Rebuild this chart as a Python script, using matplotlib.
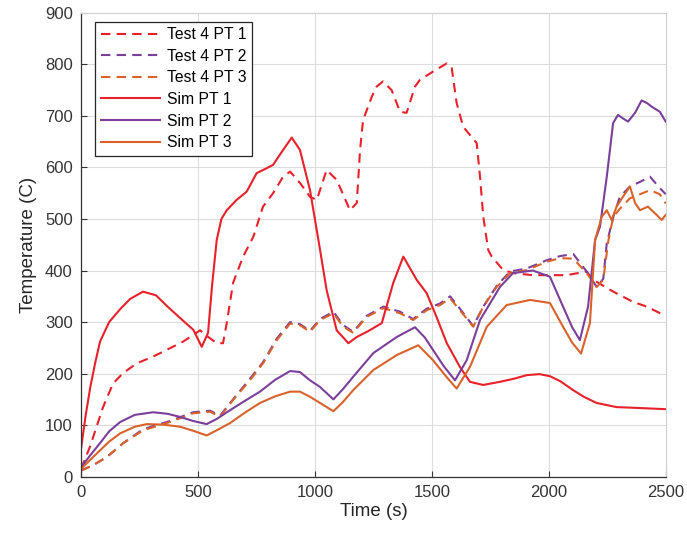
import matplotlib
matplotlib.use("Agg")
import matplotlib.pyplot as plt

# values (time in s, temperature in C)
test1_t = [0, 38, 94, 137, 180, 238, 308, 366, 436, 509, 544, 580, 607, 623, 650, 693, 737, 778,
           821, 864, 894, 936, 979, 1008, 1050, 1093, 1150, 1179, 1193, 1206, 1243, 1264, 1291,
           1328, 1364, 1392, 1428, 1449, 1505, 1564, 1585, 1606, 1634, 1663, 1692, 1706, 1720,
           1741, 1756, 1805, 1847, 1932, 2076, 2162, 2190, 2276, 2361, 2419, 2490]
test1_v = [15, 58, 135, 181, 201, 220, 233, 246, 262, 284, 271, 259, 259, 298, 376, 427, 466, 524,
           550, 582, 592, 570, 543, 537, 595, 576, 517, 531, 634, 692, 737, 757, 767,
           750, 708, 706, 757, 770, 786, 802, 793, 725, 679, 663, 647, 582, 504,
           440, 427, 401, 395, 391, 391, 398, 382, 359, 339, 330, 314]

test2_t = [0, 50, 110, 180, 265, 380, 479, 552, 594, 650, 722, 778, 837, 894, 936, 979, 1022, 1079,
           1121, 1164, 1221, 1293, 1364, 1420, 1478, 1535, 1578, 1620, 1677, 1720, 1777, 1834,
           1906, 1991, 2048, 2105, 2162, 2205, 2233, 2248, 2276, 2304, 2347, 2390, 2433, 2475, 2500]
test2_v = [12, 22, 38, 65, 92, 108, 125, 128, 118, 150, 190, 222, 268, 300, 296, 283, 306, 320,
           294, 281, 312, 330, 320, 306, 326, 336, 350, 326, 292, 330, 370, 398,
           404, 420, 428, 432, 398, 368, 384, 453, 504, 543, 563, 572, 582, 560, 548]

test3_t = [0, 50, 110, 180, 265, 380, 479, 552, 594, 650, 722, 778, 837, 894, 936, 979, 1022, 1079,
           1121, 1164, 1221, 1293, 1364, 1420, 1478, 1535, 1578, 1620, 1677, 1720, 1777, 1834,
           1906, 1991, 2048, 2105, 2162, 2205, 2233, 2255, 2276, 2304, 2347, 2390, 2433, 2475, 2500]
test3_v = [12, 22, 38, 65, 90, 106, 123, 126, 116, 149, 187, 220, 265, 297, 294, 281, 304, 317,
           291, 279, 310, 327, 317, 304, 323, 333, 346, 323, 291, 330, 368, 395,
           401, 417, 424, 423, 395, 368, 382, 459, 504, 520, 540, 548, 556, 548, 530]

sim1_t = [0, 20, 40, 60, 81, 120, 167, 210, 265, 320, 370, 423, 480, 516, 543, 560, 580, 600, 623,
          665, 708, 751, 787, 821, 864, 901, 936, 979, 1022, 1050, 1093, 1143, 1179, 1230, 1286,
          1335, 1378, 1435, 1478, 1520, 1564, 1620, 1663, 1719, 1791, 1850, 1906, 1960, 2005,
          2050, 2104, 2150, 2205, 2290, 2400, 2500]
sim1_v = [55, 120, 175, 220, 262, 300, 325, 345, 359, 352, 330, 308, 285, 252, 279, 370, 459, 500, 517,
          537, 553, 589, 597, 605, 634, 658, 634, 556, 440, 362, 284, 259, 271, 283, 298,
          376, 427, 382, 356, 310, 259, 213, 184, 178, 184, 190, 197, 199, 195,
          185, 168, 155, 143, 135, 133, 131]

sim2_t = [0, 40, 81, 120, 167, 230, 308, 370, 423, 480, 537, 580, 637, 700, 765, 830, 894, 936, 979,
          1022, 1079, 1120, 1164, 1250, 1350, 1428, 1470, 1505, 1550, 1599, 1649, 1706, 1791, 1847,
          1932, 2005, 2061, 2100, 2133, 2168, 2198, 2219, 2248, 2275, 2296, 2318, 2339, 2369, 2397,
          2420, 2440, 2475, 2500]
sim2_v = [18, 42, 65, 88, 106, 120, 125, 122, 116, 108, 102, 112, 129, 147, 165, 188, 205, 203, 187,
          174, 150, 170, 194, 240, 271, 290, 270, 246, 215, 187, 226, 304, 368, 395,
          400, 388, 330, 290, 265, 330, 459, 485, 582, 686, 702, 695, 689, 706, 730,
          725, 718, 708, 689]

sim3_t = [0, 40, 81, 120, 167, 230, 281, 350, 423, 480, 537, 580, 637, 700, 765, 830, 894, 936, 979,
          1022, 1079, 1120, 1164, 1250, 1350, 1442, 1505, 1560, 1606, 1663, 1735, 1820, 1920, 2005,
          2061, 2100, 2138, 2176, 2198, 2226, 2248, 2269, 2290, 2317, 2347, 2369, 2390, 2424, 2461,
          2483, 2500]
sim3_v = [15, 33, 51, 68, 84, 97, 102, 101, 97, 89, 80, 90, 104, 124, 143, 156, 165, 165, 155,
          143, 127, 145, 168, 207, 236, 255, 226, 195, 171, 213, 291, 333, 343, 337,
          291, 260, 239, 298, 459, 504, 517, 498, 524, 543, 563, 531, 517, 524, 508,
          498, 508]

red = "#e8202a"
purple = "#7b3f9a"
orange = "#d9622b"

plt.rcParams["font.family"] = ["Liberation Sans", "DejaVu Sans"]

fig = plt.figure(figsize=(6.87, 5.35), dpi=100)
ax = fig.add_axes([0.118, 0.109, 0.851, 0.867])

dash = (0, (4.5, 3))
ax.plot(test1_t, test1_v, color=red, lw=1.5, ls=dash, label="Test 4 PT 1")
ax.plot(test2_t, test2_v, color=purple, lw=1.5, ls=dash, label="Test 4 PT 2")
ax.plot(test3_t, test3_v, color=orange, lw=1.5, ls=dash, label="Test 4 PT 3")
ax.plot(sim1_t, sim1_v, color=red, lw=1.5, label="Sim PT 1")
ax.plot(sim2_t, sim2_v, color=purple, lw=1.5, label="Sim PT 2")
ax.plot(sim3_t, sim3_v, color=orange, lw=1.5, label="Sim PT 3")

ax.set_xlim(0, 2500)
ax.set_ylim(0, 900)
ax.set_xticks(range(0, 2501, 500))
ax.set_yticks(range(0, 901, 100))
ax.grid(True, color="#dcdcdc", lw=0.8)
ax.set_axisbelow(True)
ax.tick_params(direction="in", length=4, width=0.8, labelsize=12, colors="#333333", pad=6)
for s in ["left", "bottom"]:
    ax.spines[s].set_color("#333333")
    ax.spines[s].set_linewidth(0.9)
for s in ["top", "right"]:
    ax.spines[s].set_color("#d0d0d0")
    ax.spines[s].set_linewidth(0.8)

ax.set_xlabel("Time (s)", fontsize=13.5, color="#262626", labelpad=2)
ax.set_ylabel("Temperature (C)", fontsize=13.5, color="#262626", labelpad=6)

leg = ax.legend(loc="upper left", bbox_to_anchor=(0.024, 0.981), fontsize=11.3, handlelength=3.8,
                labelspacing=0.42, handletextpad=0.45, borderpad=0.35, borderaxespad=0,
                fancybox=False, framealpha=1, edgecolor="#262626")
leg.get_frame().set_linewidth(0.9)

fig.savefig("out.png", dpi=100)
